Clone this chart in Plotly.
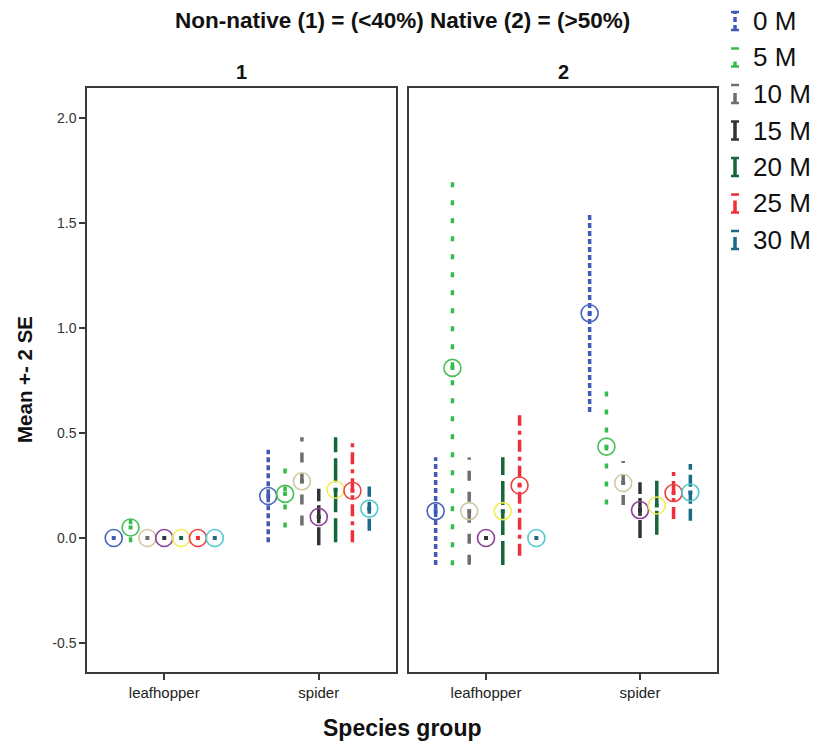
import plotly.graph_objects as go

# ---------------- data ----------------
series = ["0 M", "5 M", "10 M", "15 M", "20 M", "25 M", "30 M"]
categories = ["leafhopper", "spider"]
panels = ["1", "2"]

# means and error half-widths (2 SE) per panel / category, in series order
p1_leafhopper_mean = [0.0, 0.05, 0.0, 0.0, 0.0, 0.0, 0.0]
p1_leafhopper_err = [0.0, 0.07, 0.0, 0.0, 0.0, 0.0, 0.0]
p1_spider_mean = [0.20, 0.21, 0.27, 0.10, 0.23, 0.225, 0.14]
p1_spider_err = [0.22, 0.16, 0.21, 0.135, 0.25, 0.245, 0.105]
p2_leafhopper_mean = [0.128, 0.81, 0.128, 0.0, 0.128, 0.25, 0.0]
p2_leafhopper_err = [0.257, 0.94, 0.255, 0.0, 0.257, 0.335, 0.0]
p2_spider_mean = [1.07, 0.435, 0.262, 0.133, 0.155, 0.214, 0.217]
p2_spider_err = [0.47, 0.275, 0.105, 0.133, 0.14, 0.124, 0.135]

y_ticks = [-0.5, 0.0, 0.5, 1.0, 1.5, 2.0]
y_ticktext = ["-0.5", "0.0", "0.5", "1.0", "1.5", "2.0"]

# ---------------- styles ----------------
bar_colors = ["#3f5bb5", "#35bd4c", "#6e6e6e", "#333333", "#15663a", "#ef2e3c", "#1d6a84"]
circle_colors = ["#4a64bd", "#45c158", "#cfcaa0", "#8c3f97", "#f1ee55", "#ee4040", "#55c8d0"]
dashes = ["5px,3px", "5px,13px", "10px,11px", "18px,4px", "24px,6px", "12px,5px,4px,5px", "12px,5px"]

W, H = 820, 744
panel_px = [(87, 396), (409, 717)]
top_px, bot_px = 88, 672
step = 0.109

data = {
    ("1", "leafhopper"): (p1_leafhopper_mean, p1_leafhopper_err),
    ("1", "spider"): (p1_spider_mean, p1_spider_err),
    ("2", "leafhopper"): (p2_leafhopper_mean, p2_leafhopper_err),
    ("2", "spider"): (p2_spider_mean, p2_spider_err),
}

fig = go.Figure()

for pi, p in enumerate(panels):
    xa = "x" if pi == 0 else "x2"
    ya = "y" if pi == 0 else "y2"
    for si, s in enumerate(series):
        off = (si - 3) * step
        bx, by, mx, my = [], [], [], []
        for ci, c in enumerate(categories):
            m, e = data[(p, c)]
            x = ci + off
            if e[si] > 0:
                bx += [x, x, None]
                by += [m[si] - e[si], m[si] + e[si], None]
            mx.append(x)
            my.append(m[si])
        fig.add_trace(go.Scatter(x=bx, y=by, mode="lines", xaxis=xa, yaxis=ya,
                                 line=dict(color=bar_colors[si], width=3.5, dash=dashes[si]),
                                 showlegend=False, hoverinfo="skip"))
        fig.add_trace(go.Scatter(x=mx, y=my, mode="markers", xaxis=xa, yaxis=ya,
                                 marker=dict(symbol="square", size=4, color=bar_colors[si]),
                                 showlegend=False))
        fig.add_trace(go.Scatter(x=mx, y=my, mode="markers", xaxis=xa, yaxis=ya, name=s,
                                 marker=dict(symbol="circle-open", size=17, color=circle_colors[si],
                                             line=dict(width=1.6, color=circle_colors[si])),
                                 showlegend=False))

FONT = "Liberation Sans, Arial, sans-serif"
axis_common = dict(showline=True, mirror=True, linecolor="#3a3a3a", linewidth=1.5,
                   showgrid=False, zeroline=False)

ydom = [1 - bot_px / H, 1 - top_px / H]
layout = dict(
    width=W, height=H, margin=dict(l=0, r=0, t=0, b=0),
    paper_bgcolor="white", plot_bgcolor="white",
    font=dict(family=FONT, color="#222"),
    xaxis=dict(domain=[panel_px[0][0] / W, panel_px[0][1] / W], range=[-0.5, 1.5],
               tickvals=[0, 1], ticktext=categories, ticks="outside", ticklen=6,
               tickcolor="#3a3a3a", tickwidth=1.5, tickfont=dict(size=15, color="#222"),
               **axis_common),
    xaxis2=dict(domain=[panel_px[1][0] / W, panel_px[1][1] / W], range=[-0.5, 1.5],
                tickvals=[0, 1], ticktext=categories, ticks="outside", ticklen=6,
                tickcolor="#3a3a3a", tickwidth=1.5, tickfont=dict(size=15, color="#222"),
                anchor="y2", **axis_common),
    yaxis=dict(domain=ydom, range=[(538 - bot_px) / 210, (538 - top_px) / 210],
               tickvals=y_ticks, ticktext=y_ticktext, ticks="outside", ticklen=6,
               tickcolor="#3a3a3a", tickwidth=1.5, tickfont=dict(size=14, color="#333"),
               **axis_common),
    yaxis2=dict(domain=ydom, range=[(538 - bot_px) / 210, (538 - top_px) / 210],
                showticklabels=False, ticks="", anchor="x2", **axis_common),
)
fig.update_layout(**layout)

ann = [
    dict(text="<b>Non-native (1) = (<40%) Native (2) = (>50%)</b>", x=402 / W, y=1 - 21 / H,
         font=dict(size=22.5, color="#111")),
    dict(text="<b>1</b>", x=(panel_px[0][0] + panel_px[0][1]) / 2 / W, y=1 - 72 / H,
         font=dict(size=20, color="#111")),
    dict(text="<b>2</b>", x=(panel_px[1][0] + panel_px[1][1]) / 2 / W, y=1 - 72 / H,
         font=dict(size=20, color="#111")),
    dict(text="<b>Species group</b>", x=402 / W, y=1 - 728 / H, font=dict(size=23, color="#111")),
    dict(text="<b>Mean +- 2 SE</b>", x=24 / W, y=1 - 380 / H, textangle=-90,
         font=dict(size=20.5, color="#111")),
]
for a in ann:
    a.update(xref="paper", yref="paper", showarrow=False, xanchor="center", yanchor="middle")
    fig.add_annotation(**a)

# manual legend (error-bar glyphs)
shapes = []
for si, s in enumerate(series):
    yc = 21 + si * 36.5
    gx = 735
    col = bar_colors[si]
    y0p, y1p = 1 - (yc + 9) / H, 1 - (yc - 9) / H
    shapes.append(dict(type="line", xref="paper", yref="paper", x0=gx / W, x1=gx / W, y0=y0p, y1=y1p,
                       line=dict(color=col, width=3.5, dash=dashes[si] if si in (0, 1, 2, 5, 6) else "solid")))
    for yy in (y0p, y1p):
        shapes.append(dict(type="line", xref="paper", yref="paper", x0=(gx - 4) / W, x1=(gx + 4) / W,
                           y0=yy, y1=yy, line=dict(color=col, width=2.5)))
    fig.add_annotation(text=s, xref="paper", yref="paper", x=751 / W, y=1 - yc / H,
                       xanchor="left", yanchor="middle", showarrow=False,
                       font=dict(size=26, color="#111", family=FONT))
fig.update_layout(shapes=shapes)

fig.write_html("out.html", config={"displayModeBar": False},
               post_script="document.body.style.margin='0';document.body.style.overflow='hidden';")
